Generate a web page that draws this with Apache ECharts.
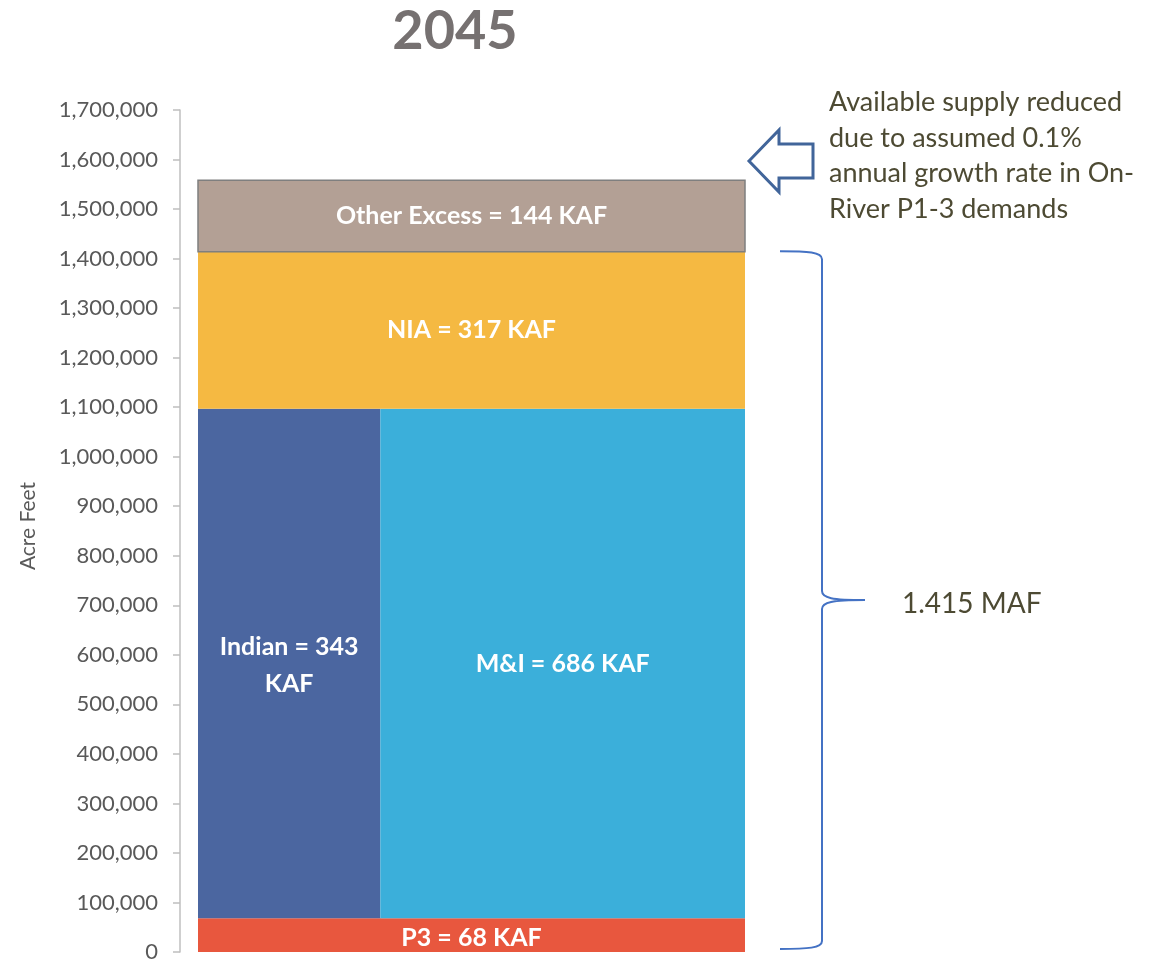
<!DOCTYPE html>
<html>
<head>
<meta charset="utf-8">
<script src="https://cdn.jsdelivr.net/npm/echarts@6/dist/echarts.min.js"></script>
<style>
  html, body { margin: 0; padding: 0; background: #fff; }
  #chart { width: 1164px; height: 963px; }
</style>
</head>
<body>
<div id="chart"></div>
<script>
// allocations in KAF
const categories = ['P3', 'Indian', 'M&I', 'NIA', 'Other Excess'];
const kaf = [68, 343, 686, 317, 144];
const colors = ['#E8573E', '#4B66A0', '#3BAFDA', '#F5B942', '#B3A095'];
const labels = ['P3 = 68 KAF', 'Indian = 343\nKAF', 'M&I = 686 KAF', 'NIA = 317 KAF', 'Other Excess = 144 KAF'];
const braceTotal = 1415000;
const braceLabel = '1.415 MAF';
const noteLines = ['Available supply reduced', 'due to assumed 0.1%', 'annual growth rate in On-', 'River P1-3 demands'];
const yMin = 0, yMax = 1700000, yStep = 100000;

// blocks: [x0, x1, y0, y1] in (share, acre feet)
const AF = 1000;
const shared = kaf[1] + kaf[2];
const split = kaf[1] / shared;
const yP3 = kaf[0] * AF;
const yMid = yP3 + shared * AF;
const yNia = yMid + kaf[3] * AF;
const yOther = yNia + kaf[4] * AF;
const blocks = [
  [0, 1, 0, yP3],
  [0, split, yP3, yMid],
  [split, 1, yP3, yMid],
  [0, 1, yMid, yNia],
  [0, 1, yNia, yOther]
];

const chart = echarts.init(document.getElementById('chart'));
const pad = 18 / 547;

const option = {
  animation: false,
  textStyle: { fontFamily: 'Lato, sans-serif' },
  grid: { left: 180, right: 401, top: 110, bottom: 11 },
  xAxis: { type: 'value', min: -pad, max: 1 + pad, show: false },
  yAxis: {
    type: 'value',
    min: yMin, max: yMax, interval: yStep,
    name: 'Acre Feet',
    nameLocation: 'middle',
    nameRotate: 90,
    nameGap: 141,
    nameTextStyle: { color: '#595959', fontSize: 21, padding: [0, 0, 0, 10] },
    axisLine: { show: true, onZero: false, lineStyle: { color: '#BFBFBF', width: 1.5 } },
    axisTick: { show: true, length: 7, lineStyle: { color: '#BFBFBF', width: 1.5 } },
    splitLine: { show: false },
    axisLabel: {
      color: '#595959', fontSize: 22, margin: 22,
      formatter: v => v.toLocaleString('en-US')
    }
  },
  series: [
    {
      type: 'custom',
      data: blocks.map((b, i) => ({ name: categories[i], value: b })),
      renderItem: (params, api) => {
        const i = params.dataIndex;
        const p0 = api.coord([api.value(0), api.value(2)]);
        const p1 = api.coord([api.value(1), api.value(3)]);
        const isOther = categories[i] === 'Other Excess';
        return {
          type: 'rect',
          shape: { x: p0[0], y: p1[1], width: p1[0] - p0[0], height: p0[1] - p1[1] },
          style: {
            fill: colors[i],
            stroke: isOther ? '#7F7F7F' : null,
            lineWidth: isOther ? 1.5 : 0
          },
          textContent: {
            style: {
              text: labels[i], fill: '#fff', fontSize: 25, fontWeight: 'bold',
              fontFamily: 'Lato, sans-serif', align: 'center', lineHeight: 37
            }
          },
          textConfig: { position: 'inside', offset: categories[i] === 'P3' ? [0, 3] : (categories[i] === 'Indian' ? [0, 2] : [0, 0]) }
        };
      }
    },
    {
      type: 'custom',
      data: [[1, braceTotal]],
      renderItem: (params, api) => {
        const top = api.coord([api.value(0), api.value(1)]);
        const bot = api.coord([api.value(0), 0]);
        const xr = top[0];
        const ya = top[1], yb = bot[1] - 3, ym = (ya + yb) / 2;
        const xs = xr + 35, xv = xr + 77, xt = xr + 120;
        const path = [
          'M', xs, ya, 'C', xs + 28, ya, xv, ya + 1, xv, ya + 8,
          'L', xv, ym - 9, 'C', xv, ym - 2, xv + 10, ym, xt, ym,
          'C', xv + 10, ym, xv, ym + 2, xv, ym + 9,
          'L', xv, yb - 8, 'C', xv, yb - 1, xs + 28, yb, xs, yb
        ].join(' ');
        return {
          type: 'group',
          children: [
            { type: 'path', shape: { pathData: path }, style: { fill: null, stroke: '#4472C4', lineWidth: 2 } },
            {
              type: 'text', x: xr + 157, y: ym + 4,
              style: { text: braceLabel, fill: '#4D4A33', fontSize: 28, fontFamily: 'Lato, sans-serif', verticalAlign: 'middle' }
            }
          ]
        };
      }
    }
  ],
  graphic: [
    {
      type: 'text', x: 455, y: 32,
      style: { text: '2045', fill: '#767171', fontSize: 54, fontWeight: 'bold', fontFamily: 'Lato, sans-serif', align: 'center', verticalAlign: 'middle' }
    },
    {
      type: 'polygon',
      shape: { points: [[749, 161], [779, 130], [779, 144], [813, 144], [813, 178], [779, 178], [779, 192]] },
      style: { fill: '#fff', stroke: '#41659A', lineWidth: 3 }
    },
    {
      type: 'text', x: 829, y: 85,
      style: { text: noteLines.join('\n'), fill: '#4D4A33', fontSize: 27, lineHeight: 35.5, fontFamily: 'Lato, sans-serif' }
    }
  ]
};

chart.setOption(option);
</script>
</body>
</html>
